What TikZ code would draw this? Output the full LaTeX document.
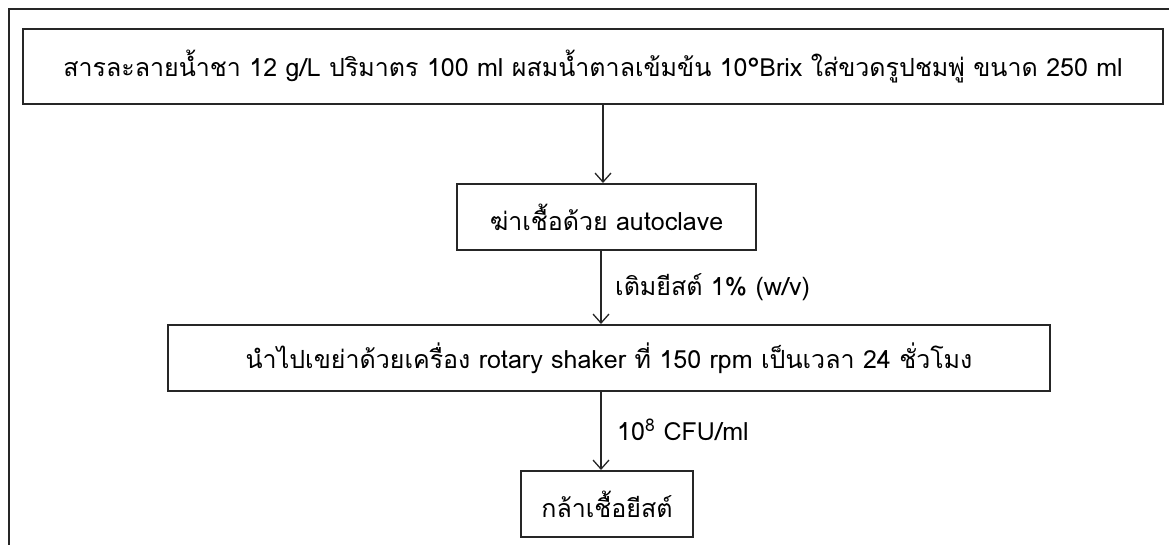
\documentclass[tikz,border=0pt]{standalone}
\usepackage{fontspec}
\setmainfont[Script=Thai]{Loma}
\usetikzlibrary{arrows.meta}
\tikzset{
  stepbox/.style={draw=black!85, line width=2pt, inner sep=0pt, font=\fontsize{25}{30}\selectfont, anchor=center},
  arr/.style={draw=black!85, line width=1.3pt, -{Straight Barb[length=9pt,width=16pt,line width=1.3pt]}},
  lbl/.style={anchor=west, inner sep=0pt, font=\fontsize{25}{30}\selectfont},
  frame/.style={draw=black!85, line width=2pt}
}
\begin{document}
\begin{tikzpicture}[x=1pt,y=-1pt]
\useasboundingbox (0,0) rectangle (1169,544);
\coordinate (fbl) at (9,546);
\coordinate (ftl) at (9,9);
\coordinate (ftr) at (1171,9);
\draw[frame] (fbl) -- (ftl) -- (ftr);
\node[stepbox, minimum width=1140pt, minimum height=75pt] (b1) at (593,66.5)
  {สารละลายน้ำชา 12 g/L ปริมาตร 100 ml ผสมน้ำตาลเข้มข้น 10°Brix ใส่ขวดรูปชมพู่ ขนาด 250 ml};
\node[stepbox, minimum width=299pt, minimum height=66pt] (b2) at (606.5,217)
  {ฆ่าเชื้อด้วย autoclave};
\node[stepbox, minimum width=882pt, minimum height=66pt] (b3) at (609,358)
  {นำไปเขย่าด้วยเครื่อง rotary shaker ที่ 150 rpm เป็นเวลา 24 ชั่วโมง};
\node[stepbox, minimum width=172pt, minimum height=66pt] (b4) at (607,504)
  {กล้าเชื้อยีสต์};
\node[lbl] (l2) at (615,287) {เติมยีสต์ 1\% (w/v)};
\node[lbl] (l3) at (617,430) {10\textsuperscript{8} CFU/ml};
\draw[arr] (b1.south -| 603,0) -- (b2.north -| 603,0);
\draw[arr] (b2.south -| 601,0) -- (b3.north -| 601,0);
\draw[arr] (b3.south -| 601,0) -- (b4.north -| 601,0);
\end{tikzpicture}
\end{document}
